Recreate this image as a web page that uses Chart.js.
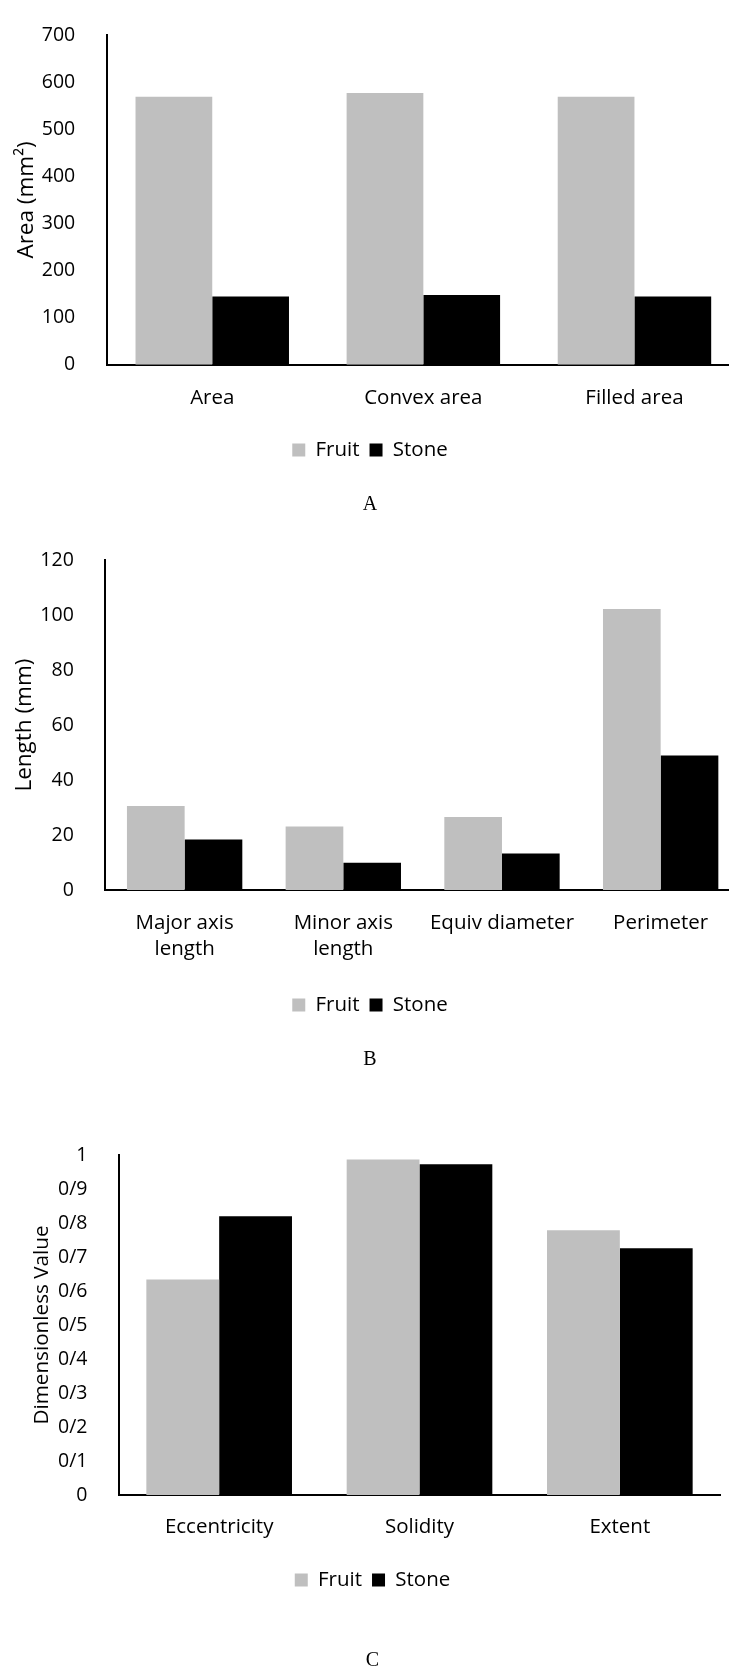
<!DOCTYPE html>
<html lang="en">
<head>
<meta charset="UTF-8">
<meta name="viewport" content="width=device-width, initial-scale=1.0">
<title>Fruit and stone size and shape</title>
<style>
    html, body { margin: 0; padding: 0; background: #fff; overflow: hidden; }
    .panel { position: absolute; left: 0; }
</style>
<script src="https://cdn.jsdelivr.net/npm/chart.js"></script>
</head>
<body>
<canvas id="chartA" class="panel" width="740" height="517" style="top:0px"></canvas>
<canvas id="chartB" class="panel" width="740" height="547" style="top:525px"></canvas>
<canvas id="chartC" class="panel" width="729" height="593" style="top:1080px"></canvas>
<script>
const seriesNames = ['Fruit', 'Stone'];
const seriesColors = ['#bfbfbf', '#000000'];

// panel A
const areaLabels = ['Area', 'Convex area', 'Filled area'];
const areaFruit = [569, 577, 569];
const areaStone = [145, 148, 145];

// panel B
const lengthLabels = [['Major axis', 'length'], ['Minor axis', 'length'], 'Equiv diameter', 'Perimeter'];
const lengthFruit = [30.6, 23.1, 26.6, 102.2];
const lengthStone = [18.4, 9.9, 13.3, 48.9];

// panel C
const shapeLabels = ['Eccentricity', 'Solidity', 'Extent'];
const shapeFruit = [0.634, 0.987, 0.779];
const shapeStone = [0.82, 0.973, 0.726];
const shapeTicks = ['0', '0/1', '0/2', '0/3', '0/4', '0/5', '0/6', '0/7', '0/8', '0/9', '1'];

const FONT = 'Open Sans';

function makeChart(id, p) {
    const ctx = document.getElementById(id).getContext('2d');
    return new Chart(ctx, {
        type: 'bar',
        data: {
            labels: p.labels,
            datasets: [
                { label: seriesNames[0], data: p.fruit, backgroundColor: seriesColors[0] },
                { label: seriesNames[1], data: p.stone, backgroundColor: seriesColors[1] }
            ]
        },
        options: {
            responsive: false,
            animation: false,
            categoryPercentage: 0.727,
            barPercentage: 1.0,
            layout: {
                padding: { top: p.padTop, left: p.padLeft, right: p.padRight, bottom: 0 }
            },
            scales: {
                x: {
                    grid: { display: false },
                    border: { display: true, color: '#000', width: 2 },
                    ticks: {
                        color: '#000',
                        font: { family: FONT, size: 20.5, lineHeight: 1.27 },
                        padding: p.xPad,
                        autoSkip: false,
                        maxRotation: 0
                    },
                    afterFit: function(scale) { scale.height = p.xHeight; }
                },
                y: {
                    min: 0,
                    max: p.yMax,
                    grid: { display: false },
                    border: { display: true, color: '#000', width: 2 },
                    ticks: {
                        stepSize: p.yStep,
                        color: '#000',
                        font: { family: FONT, size: 19.5 },
                        padding: 23.5,
                        callback: function(value, index) {
                            return p.tickLabels ? p.tickLabels[index] : value;
                        }
                    },
                    title: {
                        display: true,
                        text: p.yTitle,
                        color: '#000',
                        font: { family: FONT, size: p.yTitleSize, lineHeight: 1.2 },
                        padding: { top: p.yTitlePad, bottom: 0 }
                    },
                    afterFit: function(scale) { scale.width = p.yWidth; }
                }
            },
            plugins: {
                legend: {
                    position: 'bottom',
                    labels: {
                        boxWidth: 13,
                        boxHeight: 13,
                        padding: 10,
                        color: '#000',
                        font: { family: FONT, size: 20.5 }
                    }
                },
                title: {
                    display: true,
                    position: 'bottom',
                    text: p.panel,
                    color: '#000',
                    font: { family: 'Liberation Serif', size: 20, weight: 'normal', lineHeight: 1.2 },
                    padding: { top: p.titlePad, bottom: 0 }
                },
                tooltip: { enabled: false }
            }
        }
    });
}

makeChart('chartA', {
    labels: areaLabels, fruit: areaFruit, stone: areaStone,
    yMax: 700, yStep: 100, yTitle: 'Area (mm\u00b2)', yTitleSize: 22.5, yTitlePad: 13.2,
    padTop: 21.7, padLeft: 0, padRight: 0, yWidth: 106.7,
    xHeight: 65, xPad: 12.5, titlePad: 22.75, panel: 'A'
});

makeChart('chartB', {
    labels: lengthLabels, fruit: lengthFruit, stone: lengthStone,
    yMax: 120, yStep: 20, yTitle: 'Length (mm)', yTitleSize: 22.5, yTitlePad: 11.5,
    padTop: 20.7, padLeft: 0, padRight: 0, yWidth: 105.3,
    xHeight: 94.75, xPad: 12.3, titlePad: 22.75, panel: 'B'
});

makeChart('chartC', {
    labels: shapeLabels, fruit: shapeFruit, stone: shapeStone, tickLabels: shapeTicks,
    yMax: 1, yStep: 0.1, yTitle: 'Dimensionless Value', yTitleSize: 20.7, yTitlePad: 4.3,
    padTop: 75, padLeft: 25, padRight: 9, yWidth: 94,
    xHeight: 64.75, xPad: 11.5, titlePad: 48.75, panel: 'C'
});
</script>
</body>
</html>
